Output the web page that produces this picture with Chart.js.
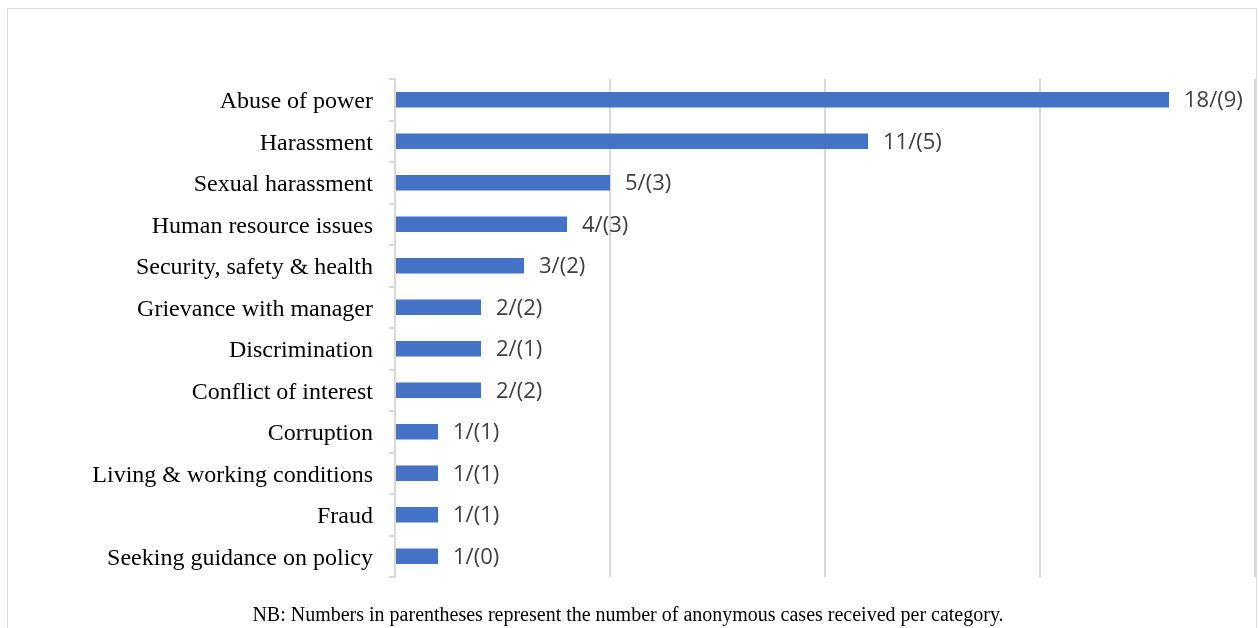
<!DOCTYPE html>
<html>
<head>
<meta charset="utf-8">
<script src="https://cdn.jsdelivr.net/npm/chart.js@4"></script>
<style>
  html, body { margin: 0; padding: 0; background: #fff; overflow: hidden; }
  #marco { position: absolute; left: 7px; top: 8px; width: 1248px; height: 640px; border: 1px solid #d9d9d9; }
  #grafico { position: absolute; left: 0; top: 0; }
  #nota { position: absolute; left: 0; top: 603px; width: 1256px; text-align: center;
          font-family: "Liberation Serif", "Times New Roman", serif; font-size: 20px; color: #000; }
</style>
</head>
<body>
<div id="marco"></div>
<canvas id="grafico" width="1258" height="628"></canvas>
<div id="nota">NB: Numbers in parentheses represent the number of anonymous cases received per category.</div>
<script>
// Datos del gráfico
const categorias = [
    'Abuse of power', 'Harassment', 'Sexual harassment', 'Human resource issues',
    'Security, safety & health', 'Grievance with manager', 'Discrimination',
    'Conflict of interest', 'Corruption', 'Living & working conditions', 'Fraud',
    'Seeking guidance on policy'
];
const totales = [18, 11, 5, 4, 3, 2, 2, 2, 1, 1, 1, 1];
const anonimos = [9, 5, 3, 3, 2, 2, 1, 2, 1, 1, 1, 0];
const ticksX = [0, 5, 10, 15, 20];

// Plugin para escribir las etiquetas "total/(anónimos)"
const etiquetas = {
    id: 'etiquetas',
    afterDatasetsDraw(chart) {
        const ctx = chart.ctx;
        const meta = chart.getDatasetMeta(0);
        ctx.save();
        ctx.font = '22px "Open Sans", sans-serif';
        ctx.fillStyle = '#404040';
        ctx.textAlign = 'left';
        ctx.textBaseline = 'middle';
        meta.data.forEach((bar, i) => {
            ctx.fillText(totales[i] + '/(' + anonimos[i] + ')', bar.x + 15, bar.y + 1);
        });
        ctx.restore();
    }
};

const ctx = document.getElementById('grafico').getContext('2d');
new Chart(ctx, {
    type: 'bar',
    data: {
        labels: categorias,
        datasets: [{
            data: totales,
            backgroundColor: '#4472c4',
            borderWidth: 0,
            barPercentage: 0.37,
            categoryPercentage: 1
        }]
    },
    options: {
        indexAxis: 'y',
        responsive: false,
        animation: false,
        layout: { padding: { left: 0, top: 79, right: 3, bottom: 51 } },
        plugins: { legend: { display: false }, tooltip: { enabled: false } },
        scales: {
            x: {
                min: ticksX[0],
                max: ticksX[ticksX.length - 1],
                afterBuildTicks: (scale) => { scale.ticks = ticksX.map(v => ({ value: v })); },
                ticks: { display: false },
                grid: { color: '#d9d9d9', lineWidth: 2, drawTicks: false },
                border: { display: false },
                afterFit: (scale) => { scale.height = 0; }
            },
            y: {
                ticks: {
                    color: '#000',
                    font: { family: '"Liberation Serif", "Times New Roman", serif', size: 24 },
                    padding: 16,
                    labelOffset: 2
                },
                grid: { drawOnChartArea: false, drawTicks: true, tickLength: 6, color: '#d9d9d9', lineWidth: 2 },
                border: { display: true, color: '#d9d9d9', width: 2 },
                afterFit: (scale) => { scale.width = 395; }
            }
        }
    },
    plugins: [etiquetas]
});
</script>
</body>
</html>
